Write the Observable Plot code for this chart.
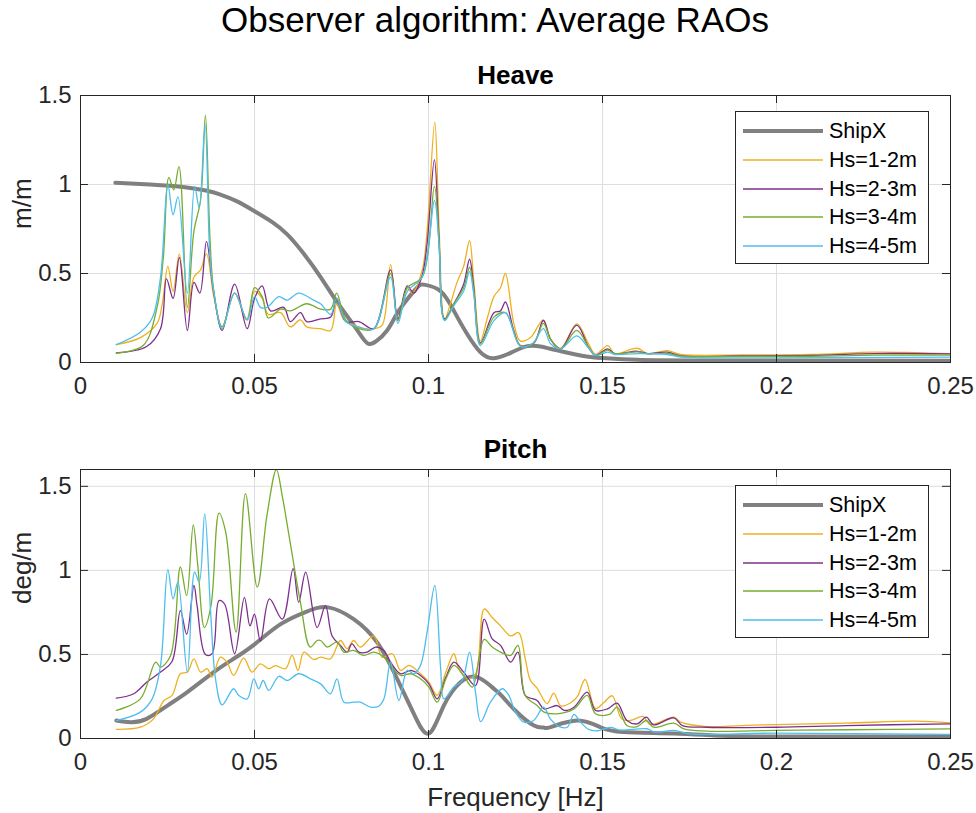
<!DOCTYPE html>
<html><head><meta charset="utf-8">
<script src="https://cdn.jsdelivr.net/npm/d3@7"></script>
<script src="https://cdn.jsdelivr.net/npm/@observablehq/plot@0.6"></script>
<style>
body{margin:0;background:#fff;}
#root{position:relative;width:976px;height:813px;font-family:"Liberation Sans",Arial,Helvetica,sans-serif;color:#262626;overflow:hidden;background:#fff}
.abs{position:absolute}
.legend{position:absolute;border:1px solid #262626;background:#fff;box-sizing:border-box}
.legend .lab{position:absolute;left:93px;font-size:21.5px;line-height:28px;white-space:nowrap;color:#000}
</style></head><body><div id="root"></div>
<script>
const mainTitle = "Observer algorithm: Average RAOs";
const panelTitles = ["Heave", "Pitch"];
const yLabels = ["m/m", "deg/m"];
const xLabel = "Frequency [Hz]";
const xTicks = [0, 0.05, 0.1, 0.15, 0.2, 0.25];
const xTickLabels = ["0", "0.05", "0.1", "0.15", "0.2", "0.25"];
const yTicks = [0, 0.5, 1, 1.5];
const yTickLabels = ["0", "0.5", "1", "1.5"];
const seriesNames = ["ShipX", "Hs=1-2m", "Hs=2-3m", "Hs=3-4m", "Hs=4-5m"];
const seriesColors = ["#808080", "#EDB120", "#7E2F8E", "#77AC30", "#4DBEEE"];
const seriesWidths = [4, 1.3, 1.3, 1.3, 1.3];

// ---- Heave (m/m): [frequency Hz, value]
const heaveShipX = [[0.010,1.01],[0.020,1.0],[0.030,0.985],[0.036,0.966],[0.040,0.945],[0.045,0.905],[0.050,0.85],[0.055,0.79],[0.0594,0.72],[0.064,0.615],[0.069,0.48],[0.0737,0.34],[0.0785,0.21],[0.081,0.14],[0.0828,0.105],[0.085,0.12],[0.0881,0.18],[0.0905,0.26],[0.0929,0.33],[0.0967,0.42],[0.0991,0.436],[0.1035,0.40],[0.1073,0.29],[0.1111,0.16],[0.1149,0.058],[0.1188,0.024],[0.124,0.058],[0.1284,0.092],[0.1322,0.09],[0.135,0.077],[0.140,0.055],[0.145,0.035],[0.150,0.025],[0.16,0.015],[0.18,0.011],[0.25,0.01]];
const heaveHs12 = [[0.0103,0.10],[0.0172,0.14],[0.022,0.22],[0.0235,0.33],[0.0251,0.54],[0.0266,0.40],[0.0284,0.61],[0.0307,0.28],[0.0326,0.48],[0.0345,0.52],[0.0362,0.61],[0.0383,0.37],[0.0407,0.20],[0.0443,0.39],[0.0477,0.24],[0.050,0.40],[0.0522,0.36],[0.054,0.27],[0.0575,0.28],[0.0603,0.20],[0.0632,0.24],[0.065,0.20],[0.069,0.19],[0.0719,0.18],[0.0736,0.33],[0.0757,0.24],[0.0785,0.21],[0.0815,0.19],[0.0843,0.19],[0.0867,0.21],[0.0891,0.55],[0.0912,0.24],[0.0939,0.42],[0.0953,0.39],[0.0982,0.52],[0.0996,0.74],[0.1018,1.35],[0.103,0.78],[0.1046,0.24],[0.1063,0.33],[0.1082,0.45],[0.1101,0.54],[0.1118,0.685],[0.113,0.46],[0.1149,0.12],[0.1169,0.25],[0.1188,0.37],[0.1207,0.42],[0.1221,0.50],[0.1245,0.22],[0.1264,0.12],[0.1293,0.14],[0.133,0.24],[0.1351,0.13],[0.138,0.08],[0.1426,0.217],[0.146,0.105],[0.148,0.045],[0.1515,0.095],[0.1535,0.05],[0.160,0.08],[0.163,0.05],[0.1686,0.067],[0.1725,0.045],[0.19,0.042],[0.21,0.045],[0.228,0.058],[0.24,0.055],[0.25,0.05]];
const heaveHs23 = [[0.0103,0.054],[0.019,0.09],[0.023,0.19],[0.0247,0.47],[0.0266,0.36],[0.0284,0.59],[0.0307,0.18],[0.0326,0.45],[0.0343,0.39],[0.0362,0.68],[0.0383,0.39],[0.0407,0.18],[0.0443,0.44],[0.0479,0.19],[0.050,0.36],[0.0522,0.43],[0.0546,0.29],[0.0584,0.31],[0.0603,0.23],[0.0632,0.28],[0.065,0.23],[0.069,0.245],[0.0719,0.255],[0.0736,0.36],[0.0762,0.23],[0.080,0.23],[0.0843,0.19],[0.0891,0.52],[0.0912,0.245],[0.0939,0.43],[0.0958,0.39],[0.0982,0.49],[0.0996,0.67],[0.1017,1.14],[0.103,0.70],[0.1046,0.245],[0.1073,0.33],[0.1101,0.44],[0.1118,0.58],[0.113,0.42],[0.1149,0.11],[0.1188,0.28],[0.1207,0.29],[0.1221,0.34],[0.1245,0.18],[0.1264,0.095],[0.1303,0.11],[0.133,0.236],[0.1351,0.13],[0.138,0.077],[0.1426,0.21],[0.146,0.086],[0.148,0.04],[0.1515,0.077],[0.1535,0.05],[0.160,0.063],[0.163,0.05],[0.1686,0.058],[0.1725,0.037],[0.19,0.037],[0.21,0.04],[0.228,0.05],[0.25,0.048]];
const heaveHs34 = [[0.0103,0.052],[0.018,0.095],[0.022,0.31],[0.0238,0.59],[0.0254,1.04],[0.0268,0.97],[0.0283,1.10],[0.0307,0.31],[0.0326,0.74],[0.0345,0.91],[0.0359,1.39],[0.0372,0.70],[0.0383,0.40],[0.0407,0.20],[0.0443,0.39],[0.0479,0.24],[0.050,0.42],[0.0522,0.37],[0.054,0.25],[0.0575,0.30],[0.0603,0.29],[0.065,0.33],[0.069,0.30],[0.0719,0.30],[0.0736,0.39],[0.0762,0.24],[0.080,0.19],[0.0843,0.19],[0.0891,0.50],[0.0912,0.235],[0.0939,0.42],[0.0982,0.48],[0.1017,0.99],[0.103,0.685],[0.1046,0.24],[0.1073,0.33],[0.1101,0.42],[0.1118,0.535],[0.113,0.40],[0.1149,0.105],[0.1188,0.255],[0.1221,0.28],[0.1264,0.095],[0.1303,0.11],[0.133,0.22],[0.1351,0.13],[0.138,0.077],[0.1426,0.18],[0.146,0.086],[0.148,0.04],[0.1515,0.07],[0.1535,0.05],[0.160,0.06],[0.163,0.048],[0.1686,0.052],[0.1725,0.036],[0.19,0.034],[0.21,0.035],[0.228,0.041],[0.25,0.041]];
const heaveHs45 = [[0.0103,0.10],[0.0172,0.17],[0.0206,0.25],[0.023,0.48],[0.0251,1.00],[0.0266,0.83],[0.028,0.93],[0.0307,0.39],[0.0328,0.99],[0.0341,0.87],[0.0358,1.34],[0.0372,0.59],[0.0383,0.40],[0.0407,0.19],[0.0443,0.39],[0.0479,0.24],[0.050,0.37],[0.0517,0.31],[0.0536,0.31],[0.057,0.37],[0.0594,0.35],[0.0627,0.39],[0.067,0.35],[0.069,0.33],[0.0719,0.27],[0.0736,0.36],[0.0762,0.23],[0.080,0.20],[0.0843,0.19],[0.0891,0.48],[0.0912,0.22],[0.0939,0.40],[0.0982,0.48],[0.1017,0.91],[0.103,0.67],[0.1046,0.235],[0.1073,0.32],[0.1101,0.40],[0.1118,0.51],[0.113,0.385],[0.1149,0.095],[0.1188,0.235],[0.1221,0.28],[0.1264,0.09],[0.130,0.11],[0.133,0.19],[0.1351,0.105],[0.138,0.077],[0.1426,0.15],[0.146,0.08],[0.148,0.04],[0.1515,0.058],[0.1535,0.045],[0.160,0.05],[0.1686,0.045],[0.1725,0.03],[0.19,0.026],[0.25,0.03]];

// ---- Pitch (deg/m): [frequency Hz, value]
const pitchShipX = [[0.0103,0.107],[0.0144,0.097],[0.019,0.117],[0.025,0.196],[0.0307,0.276],[0.0383,0.395],[0.044,0.474],[0.050,0.56],[0.0575,0.68],[0.065,0.755],[0.0712,0.78],[0.0785,0.71],[0.0853,0.57],[0.091,0.355],[0.0958,0.147],[0.1001,0.03],[0.1044,0.196],[0.1092,0.335],[0.114,0.365],[0.1188,0.296],[0.1212,0.25],[0.125,0.165],[0.1303,0.077],[0.1331,0.065],[0.1351,0.068],[0.1427,0.107],[0.1494,0.067],[0.156,0.038],[0.1705,0.03],[0.182,0.018],[0.20,0.012],[0.25,0.012]];
const pitchHs12 = [[0.0103,0.054],[0.0172,0.067],[0.021,0.117],[0.024,0.226],[0.0263,0.256],[0.0287,0.385],[0.0307,0.395],[0.0326,0.474],[0.0345,0.395],[0.0364,0.415],[0.0378,0.365],[0.0402,0.484],[0.0421,0.454],[0.044,0.375],[0.0469,0.478],[0.0493,0.395],[0.0517,0.444],[0.0541,0.415],[0.056,0.434],[0.0589,0.415],[0.0608,0.494],[0.0625,0.405],[0.0642,0.514],[0.067,0.47],[0.069,0.484],[0.0718,0.474],[0.0747,0.583],[0.0766,0.534],[0.0785,0.583],[0.0804,0.544],[0.0843,0.61],[0.0867,0.484],[0.0896,0.504],[0.092,0.405],[0.0944,0.435],[0.0977,0.385],[0.1001,0.335],[0.1025,0.256],[0.105,0.395],[0.1073,0.504],[0.1087,0.415],[0.1111,0.355],[0.1135,0.385],[0.116,0.77],[0.1183,0.72],[0.1207,0.67],[0.1236,0.61],[0.1259,0.63],[0.1278,0.474],[0.1293,0.345],[0.1312,0.30],[0.1341,0.208],[0.136,0.27],[0.138,0.194],[0.141,0.214],[0.1428,0.25],[0.145,0.351],[0.148,0.178],[0.1504,0.214],[0.1528,0.254],[0.1555,0.117],[0.158,0.107],[0.1617,0.131],[0.1637,0.083],[0.1705,0.127],[0.1725,0.097],[0.18,0.071],[0.19,0.077],[0.20,0.083],[0.22,0.091],[0.24,0.103],[0.25,0.093]];
const pitchHs23 = [[0.0103,0.24],[0.0153,0.266],[0.019,0.335],[0.023,0.395],[0.0263,0.458],[0.0287,0.76],[0.0305,0.62],[0.0326,0.91],[0.0335,0.79],[0.0359,0.50],[0.0378,0.504],[0.0398,0.82],[0.0414,0.80],[0.0443,0.504],[0.0471,0.84],[0.0487,0.67],[0.050,0.74],[0.0517,0.58],[0.0543,0.83],[0.058,0.71],[0.0611,1.01],[0.0627,0.81],[0.0647,0.99],[0.068,0.66],[0.0704,0.79],[0.0723,0.61],[0.0747,0.554],[0.0766,0.514],[0.078,0.563],[0.08,0.514],[0.0824,0.514],[0.0848,0.544],[0.0872,0.524],[0.0891,0.454],[0.092,0.385],[0.0949,0.405],[0.0977,0.375],[0.1001,0.325],[0.1025,0.236],[0.105,0.365],[0.1073,0.454],[0.1101,0.395],[0.1135,0.315],[0.116,0.71],[0.1183,0.593],[0.1207,0.554],[0.1236,0.454],[0.1257,0.514],[0.1278,0.256],[0.1312,0.226],[0.1332,0.176],[0.137,0.196],[0.139,0.167],[0.1418,0.186],[0.1456,0.276],[0.148,0.167],[0.1514,0.176],[0.1542,0.21],[0.157,0.107],[0.16,0.087],[0.1626,0.127],[0.1647,0.081],[0.1705,0.123],[0.173,0.077],[0.18,0.067],[0.20,0.067],[0.22,0.077],[0.25,0.087]];
const pitchHs34 = [[0.0103,0.167],[0.0172,0.236],[0.0216,0.454],[0.023,0.425],[0.0259,0.494],[0.0287,1.02],[0.0305,0.85],[0.0324,1.27],[0.0337,1.03],[0.0356,0.66],[0.0375,0.79],[0.0398,1.34],[0.0417,1.23],[0.0447,0.633],[0.0474,1.456],[0.0508,0.90],[0.0536,1.33],[0.0563,1.60],[0.058,1.44],[0.0599,1.21],[0.0632,0.81],[0.066,0.544],[0.068,0.583],[0.069,0.583],[0.0709,0.544],[0.0737,0.573],[0.0757,0.514],[0.0785,0.524],[0.0814,0.494],[0.0843,0.514],[0.0872,0.484],[0.0891,0.435],[0.092,0.375],[0.0949,0.385],[0.0977,0.355],[0.1001,0.306],[0.1025,0.216],[0.105,0.355],[0.1073,0.435],[0.1101,0.375],[0.1126,0.306],[0.116,0.59],[0.1183,0.544],[0.1207,0.514],[0.1236,0.494],[0.1257,0.554],[0.1278,0.256],[0.1312,0.196],[0.1332,0.157],[0.137,0.147],[0.1418,0.176],[0.1456,0.256],[0.148,0.147],[0.152,0.143],[0.1542,0.186],[0.157,0.077],[0.16,0.071],[0.1626,0.107],[0.1647,0.067],[0.1705,0.091],[0.1734,0.057],[0.18,0.044],[0.20,0.048],[0.22,0.052],[0.25,0.057]];
const pitchHs45 = [[0.0103,0.107],[0.0172,0.157],[0.0206,0.236],[0.023,0.435],[0.0251,1.006],[0.0266,0.83],[0.028,0.93],[0.0307,0.395],[0.0328,0.99],[0.0341,0.93],[0.0357,1.337],[0.0374,0.75],[0.0388,0.355],[0.0407,0.20],[0.044,0.296],[0.0455,0.256],[0.0479,0.236],[0.0498,0.355],[0.0512,0.296],[0.0525,0.345],[0.0541,0.286],[0.057,0.37],[0.0594,0.345],[0.0627,0.385],[0.0661,0.355],[0.069,0.325],[0.0718,0.266],[0.0737,0.355],[0.0757,0.216],[0.0785,0.216],[0.0804,0.216],[0.0833,0.187],[0.0857,0.192],[0.0872,0.236],[0.0891,0.454],[0.0915,0.226],[0.0939,0.405],[0.0958,0.385],[0.0977,0.435],[0.0996,0.633],[0.1018,0.91],[0.1035,0.415],[0.1044,0.236],[0.1073,0.306],[0.1097,0.345],[0.1118,0.514],[0.1135,0.276],[0.115,0.10],[0.1178,0.216],[0.1212,0.296],[0.123,0.26],[0.125,0.157],[0.1274,0.097],[0.1302,0.107],[0.1331,0.186],[0.135,0.117],[0.138,0.067],[0.1399,0.067],[0.1418,0.143],[0.1437,0.097],[0.146,0.054],[0.1485,0.046],[0.1523,0.066],[0.155,0.05],[0.1628,0.058],[0.165,0.038],[0.1705,0.048],[0.175,0.028],[0.20,0.032],[0.25,0.024]];

const heaveSeries = [heaveShipX, heaveHs12, heaveHs23, heaveHs34, heaveHs45];
const pitchSeries = [pitchShipX, pitchHs12, pitchHs23, pitchHs34, pitchHs45];

const FONT = '"Liberation Sans", Arial, Helvetica, sans-serif';
const INK = "#262626";
const root = document.getElementById("root");

// Title
const t = document.createElement("div");
t.className = "abs";
t.style.cssText = "left:0;width:990px;top:2px;text-align:center;font-size:35px;line-height:35px;color:#000";
t.textContent = mainTitle;
root.appendChild(t);

function panel({series, yMax, title, ylabel, xlab, top, marginTop, marginBottom, innerH}) {
  const W = 976, mL = 80, mR = 26;
  const innerW = W - mL - mR;
  const height = marginTop + innerH + marginBottom;
  const marks = [
    Plot.gridX(xTicks, {stroke: "#dedede", strokeOpacity: 1}),
    Plot.gridY(yTicks, {stroke: "#dedede", strokeOpacity: 1}),
  ];
  series.forEach((s, i) => {
    marks.push(Plot.line(s, {x: d => d[0], y: d => d[1], stroke: seriesColors[i], strokeWidth: seriesWidths[i], curve: i === 0 ? "natural" : "catmull-rom", clip: true}));
  });
  marks.push(
    Plot.frame({stroke: INK, strokeWidth: 1}),
    Plot.tickX(xTicks, {x: d => d, insetTop: innerH - 8, stroke: INK}),
    Plot.tickX(xTicks, {x: d => d, insetBottom: innerH - 8, stroke: INK}),
    Plot.tickY(yTicks, {y: d => d, insetRight: innerW - 8, stroke: INK}),
    Plot.tickY(yTicks, {y: d => d, insetLeft: innerW - 8, stroke: INK}),
    Plot.axisX(xTicks, {tickSize: 0, tickPadding: 14, tickFormat: d => xTickLabels[xTicks.indexOf(d)], fontSize: 24, label: null, fill: INK}),
    Plot.axisY(yTicks, {tickSize: 0, tickPadding: 9, tickFormat: d => yTickLabels[yTicks.indexOf(d)], fontSize: 24, label: null, fill: INK}),
    Plot.text([title], {frameAnchor: "top", dy: -20, fontWeight: "bold", fontSize: 26, fill: "#000", lineAnchor: "middle"}),
    Plot.text([ylabel], {frameAnchor: "left", dx: -58, rotate: -90, fontSize: 26, fill: INK, lineAnchor: "middle"})
  );
  if (xlab) marks.push(Plot.text([xlab], {frameAnchor: "bottom", dy: 59, fontSize: 26, fill: INK, lineAnchor: "middle"}));
  const svg = Plot.plot({
    width: W, height, marginLeft: mL, marginRight: mR, marginTop, marginBottom,
    x: {domain: [0, 0.25]}, y: {domain: [0, yMax]},
    style: {fontFamily: FONT, fontSize: "24px", color: INK, background: "transparent", overflow: "visible"},
    marks
  });
  svg.style.position = "absolute";
  svg.style.left = "0px";
  svg.style.top = top + "px";
  root.appendChild(svg);

  // Legend (top-right inside the axes)
  const lg = document.createElement("div");
  lg.className = "legend";
  lg.style.left = "735px";
  lg.style.top = (top + marginTop + 15.5) + "px";
  lg.style.width = "194px";
  lg.style.height = "153px";
  seriesNames.forEach((name, i) => {
    const cy = 19.5 + i * 28.75;
    const ns = "http://www.w3.org/2000/svg";
    const s = document.createElementNS(ns, "svg");
    s.setAttribute("width", "90"); s.setAttribute("height", "10");
    s.style.cssText = `position:absolute;left:0;top:${cy - 5}px`;
    const l = document.createElementNS(ns, "line");
    l.setAttribute("x1", 7); l.setAttribute("x2", 87); l.setAttribute("y1", 5); l.setAttribute("y2", 5);
    l.setAttribute("stroke", seriesColors[i]); l.setAttribute("stroke-width", seriesWidths[i]);
    s.appendChild(l);
    lg.appendChild(s);
    const tx = document.createElement("div");
    tx.className = "lab";
    tx.style.top = (cy - 14) + "px";
    tx.textContent = name;
    lg.appendChild(tx);
  });
  root.appendChild(lg);
}

panel({series: heaveSeries, yMax: 1.5, title: panelTitles[0], ylabel: yLabels[0], xlab: null, top: 55, marginTop: 40, marginBottom: 45, innerH: 267});
panel({series: pitchSeries, yMax: 1.6, title: panelTitles[1], ylabel: yLabels[1], xlab: xLabel, top: 420, marginTop: 49, marginBottom: 75, innerH: 269});
</script></body></html>
